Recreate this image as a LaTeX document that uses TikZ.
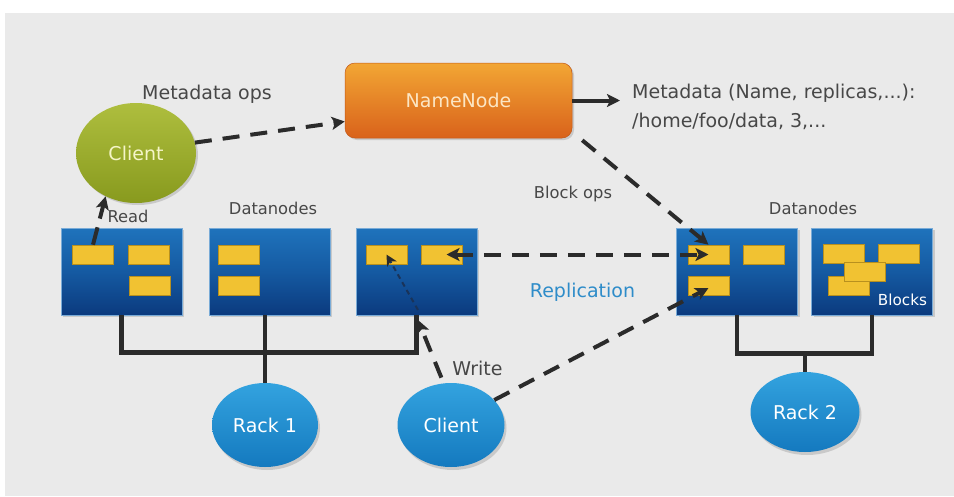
\documentclass[tikz,border=0pt]{standalone}
\usepackage{fontspec}
\setmainfont{DejaVu Sans}
\usetikzlibrary{arrows.meta,shadows,shapes.geometric,calc}

\definecolor{bggray}{HTML}{EAEAEA}
\definecolor{ink}{HTML}{2B2B2B}
\definecolor{txt}{HTML}{474747}
\definecolor{boxtop}{HTML}{1F73BC}
\definecolor{boxmid}{HTML}{155AA2}
\definecolor{boxbot}{HTML}{0B3A7E}
\definecolor{blk}{HTML}{F1C232}
\definecolor{blkedge}{HTML}{B8901E}
\definecolor{orgtop}{HTML}{F2A634}
\definecolor{orgbot}{HTML}{D9621B}
\definecolor{grntop}{HTML}{AEBE3E}
\definecolor{grnbot}{HTML}{889A1E}
\definecolor{bluetop}{HTML}{33A3DF}
\definecolor{bluebot}{HTML}{1479BF}
\definecolor{repl}{HTML}{2E8CC9}

\begin{document}
\begin{tikzpicture}[x=1pt,y=-1pt,
  lbl/.style={inner sep=0pt, text=txt, font=\fontsize{16.3}{19}\selectfont},
  biglbl/.style={inner sep=0pt, text=txt, font=\fontsize{19}{22}\selectfont},
  dnode/.style={rectangle, minimum width=121pt, minimum height=87pt, inner sep=0pt,
    top color=boxtop, bottom color=boxbot, middle color=boxmid,
    draw=boxtop!60!white, line width=0.5pt,
    drop shadow={opacity=0.3, shadow xshift=2pt, shadow yshift=-2pt}},
  blkbox/.style={rectangle, minimum width=41pt, minimum height=19pt, inner sep=0pt,
    fill=blk, draw=blkedge, line width=0.6pt},
  rackell/.style={ellipse, inner sep=0pt, top color=bluetop, bottom color=bluebot,
    text=white, font=\fontsize{19}{22}\selectfont,
    drop shadow={opacity=0.3, shadow xshift=2pt, shadow yshift=-3pt}},
  wire/.style={draw=ink, line width=4.5pt},
  dashlink/.style={draw=ink, line width=4pt, dash pattern=on 17pt off 11pt},
  arrowend/.style={-{Stealth[length=13pt,width=13pt,inset=3pt]}},
]
% canvas and backdrop
\fill[white] (0,0) rectangle (954,496);
\fill[bggray] (5,13) rectangle (954,496);
\useasboundingbox (0,0) rectangle (954,496);

% NameNode
\node[rectangle, rounded corners=10pt, minimum width=227pt, minimum height=75pt,
  top color=orgtop, bottom color=orgbot, draw=orgbot!90!black, line width=0.5pt,
  text={rgb,255:red,252;green,230;blue,196}, font=\fontsize{19}{22}\selectfont,
  drop shadow={opacity=0.3, shadow xshift=2pt, shadow yshift=-2pt}]
  (namenode) at (458.5,100.5) {NameNode};

% Reading client
\node[ellipse, minimum width=120pt, minimum height=100pt, inner sep=0pt,
  top color=grntop, bottom color=grnbot,
  text={rgb,255:red,245;green,245;blue,200}, font=\fontsize{19}{22}\selectfont,
  drop shadow={opacity=0.3, shadow xshift=2pt, shadow yshift=-2pt}]
  (client1) at (136,153) {Client};

% Datanodes
\node[dnode] (box1) at (121.5,271.5) {};
\node[dnode] (box2) at (269.5,271.5) {};
\node[dnode] (box3) at (416.5,271.5) {};
\node[dnode] (box4) at (737,271.5) {};
\node[dnode] (box5) at (872,271.5) {};

% Blocks
\node[blkbox] (b1a) at (93,254.5) {};
\node[blkbox] (b1b) at (148.5,254.5) {};
\node[blkbox] (b1c) at (150,285.5) {};
\node[blkbox] (b2a) at (239,254.5) {};
\node[blkbox] (b2b) at (239,285.5) {};
\node[blkbox] (b3a) at (386.5,254.5) {};
\node[blkbox] (b3b) at (441.5,254.5) {};
\node[blkbox] (b4a) at (708.5,254.5) {};
\node[blkbox] (b4b) at (763.5,254.5) {};
\node[blkbox] (b4c) at (708.5,286) {};
\node[blkbox] (b5a) at (843.5,254) {};
\node[blkbox] (b5b) at (898.5,254) {};
\node[blkbox] (b5d) at (849,286) {};
\node[blkbox] (b5c) at (864.5,271.5) {};
\node[inner sep=0pt, text=white, font=\fontsize{15.2}{18}\selectfont, anchor=base]
  (blockslbl) at (902.5,305) {Blocks};

% Racks and writing client
\node[rackell, minimum width=106pt, minimum height=84pt] (rack1) at (265,425) {Rack 1};
\node[rackell, minimum width=107pt, minimum height=84pt] (client2) at (451,425) {Client};
\node[rackell, minimum width=109pt, minimum height=80pt] (rack2) at (805,412) {Rack 2};

% Rack wiring
\draw[wire] (box1.south) -- ++(0,37) -| (box3.south);
\draw[wire] (rack1.north |- box2.south) -- (rack1.north);
\draw[wire] (box4.south) -- ++(0,38) -| (box5.south);
\coordinate (r2join) at (805,353);
\draw[wire] (r2join) -- (rack2.north);

% Labels
\node[biglbl, anchor=base] (opslbl) at (207,99) {Metadata ops};
\node[lbl, anchor=base] (readlbl) at (128,222) {Read};
\node[lbl, anchor=base] (dnlbl1) at (273,214) {Datanodes};
\node[lbl, anchor=base] (dnlbl2) at (813,214) {Datanodes};
\node[lbl, anchor=base] (blkopslbl) at (573,198) {Block ops};
\node[biglbl, anchor=base, text=repl] (repllbl) at (582.5,297) {Replication};
\node[biglbl, anchor=base] (writelbl) at (477.5,375) {Write};
\node[biglbl, anchor=base west, inner xsep=12pt] (meta1) at (620,98) {Metadata (Name, replicas,...):};
\node[biglbl, anchor=base west] (meta2) at (632,127) {/home/foo/data, 3,...};

% Metadata flow
\draw[dashlink, arrowend] (client1.10) -- ([yshift=-21pt]namenode.west);
\draw[draw=ink, line width=4pt, arrowend] (namenode.east) -- (namenode.east -| meta1.west);

% Block operations
\draw[dashlink, arrowend] ([xshift=10pt,yshift=-2pt]namenode.south east) -- (b4a.north);

% Read
\draw[dashlink, dash pattern=on 18pt off 9pt, arrowend] (b1a.north) -- (client1.235);

% Replication
\draw[dashlink, {Stealth[length=13pt,width=13pt,inset=3pt]}-{Stealth[length=13pt,width=13pt,inset=3pt]}]
  ([xshift=5pt]b3b.center) -- (b4a.center);

% Write
\coordinate (wtip) at (418,320);
\draw[dashlink, arrowend, shorten <=6pt] (client2.100) -- (wtip);
\draw[draw=ink!45!boxbot, line width=2pt, dash pattern=on 5pt off 4pt,
  -{Stealth[length=11pt,width=11pt,inset=3pt,color=ink]}] ([yshift=10pt]wtip) -- (b3a.center);
\draw[dashlink, arrowend] (client2.30) -- ([yshift=-2pt]b4c.center);
\end{tikzpicture}
\end{document}
